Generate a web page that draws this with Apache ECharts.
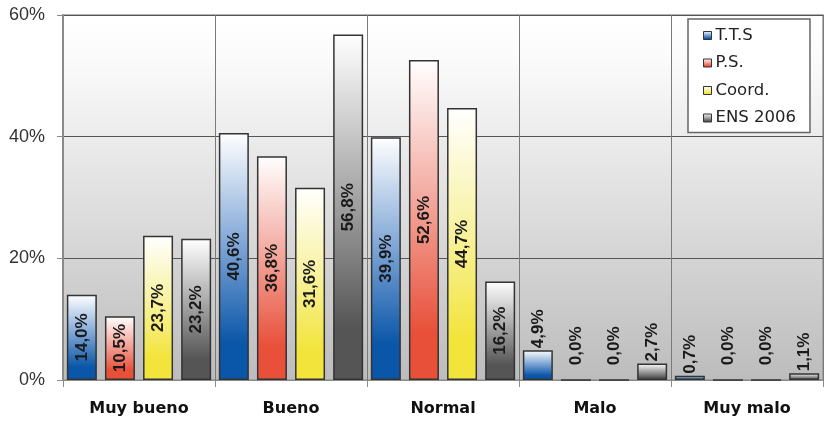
<!DOCTYPE html>
<html>
<head>
<meta charset="utf-8">
<script src="https://cdn.jsdelivr.net/npm/echarts@6/dist/echarts.min.js"></script>
<style>
html,body{margin:0;padding:0;background:#fff;}
#chart{width:824px;height:421px;}
</style>
</head>
<body>
<div id="chart"></div>
<script>
var categories = ['Muy bueno', 'Bueno', 'Normal', 'Malo', 'Muy malo'];
var seriesNames = ['T.T.S', 'P.S.', 'Coord.', 'ENS 2006'];
var ttsValues = [14.0, 40.6, 39.9, 4.9, 0.7];
var psValues = [10.5, 36.8, 52.6, 0.0, 0.0];
var coordValues = [23.7, 31.6, 44.7, 0.0, 0.0];
var ensValues = [23.2, 56.8, 16.2, 2.7, 1.1];
var yTicks = [0, 20, 40, 60];

var baseColors = ['#0a56a8', '#e8503a', '#f2e43a', '#555555'];
var midColors = ['#7fa6d6', '#f3a59a', '#f8f2a0', '#a8a8a8'];
var allValues = [ttsValues, psValues, coordValues, ensValues];

function grad(i) {
  return {
    type: 'linear', x: 0, y: 0, x2: 0, y2: 1,
    colorStops: [
      {offset: 0, color: '#ffffff'},
      {offset: 0.45, color: midColors[i]},
      {offset: 0.85, color: baseColors[i]},
      {offset: 1, color: baseColors[i]}
    ]
  };
}

function fmt(v) { return v.toFixed(1).replace('.', ',') + '%'; }

var labelFont = {fontFamily: 'Liberation Sans, Arial, sans-serif', fontWeight: 'bold', fontSize: 17, color: '#1a1a1a'};

var series = seriesNames.map(function (name, i) {
  return {
    name: name,
    type: 'bar',
    barWidth: 30,
    barGap: '27%',
    itemStyle: {color: grad(i), borderColor: '#333333', borderWidth: 1.5},
    data: allValues[i].map(function (v) {
      var big = v >= 8;
      return {
        value: v,
        label: Object.assign({
          show: true,
          rotate: 90,
          position: big ? 'inside' : 'top',
          align: big ? 'center' : 'left',
          verticalAlign: 'middle',
          distance: v === 0 ? 14 : 2,
          formatter: function (p) { return fmt(p.value); }
        }, labelFont)
      };
    })
  };
});

var chart = echarts.init(document.getElementById('chart'));
chart.setOption({
  animation: false,
  backgroundColor: '#ffffff',
  grid: {
    left: 63, right: 1, top: 15, bottom: 41,
    show: true,
    borderColor: '#999999',
    borderWidth: 1.5,
    backgroundColor: {
      type: 'linear', x: 0, y: 0, x2: 0, y2: 1,
      colorStops: [
        {offset: 0, color: '#ffffff'},
        {offset: 0.12, color: '#fbfbfb'},
        {offset: 1, color: '#bcbcbc'}
      ]
    }
  },
  legend: {
    orient: 'vertical',
    left: 688, top: 19,
    padding: [8, 14, 6, 15],
    itemGap: 10.5,
    itemWidth: 8, itemHeight: 8,
    icon: 'rect',
    backgroundColor: '#ffffff',
    borderColor: '#666666',
    borderWidth: 1.5,
    itemStyle: {borderColor: '#333333', borderWidth: 1},
    textStyle: {fontFamily: 'DejaVu Sans, sans-serif', fontSize: 16.5, color: '#222222', padding: [0, 0, 0, -1]},
    data: seriesNames
  },
  xAxis: {
    type: 'category',
    data: categories,
    axisLine: {show: true, lineStyle: {color: '#8a8a8a', width: 1}},
    axisTick: {show: true, length: 7, interval: 0, lineStyle: {color: '#8a8a8a'}},
    splitLine: {show: true, interval: 0, lineStyle: {color: '#7a7a7a', width: 1}},
    axisLabel: {fontFamily: 'DejaVu Sans, sans-serif', fontWeight: 'bold', fontSize: 16, color: '#111111', margin: 21, interval: 0}
  },
  yAxis: {
    type: 'value',
    min: yTicks[0], max: yTicks[yTicks.length - 1], interval: 20,
    axisLine: {show: true, lineStyle: {color: '#8a8a8a', width: 2}},
    axisTick: {show: true, length: 6, lineStyle: {color: '#8a8a8a'}},
    splitLine: {show: true, lineStyle: {color: '#555555', width: 1}},
    axisLabel: {fontFamily: 'Liberation Sans, Arial, sans-serif', fontSize: 18, color: '#333333', margin: 18, formatter: '{value}%'}
  },
  series: series
});
</script>
</body>
</html>
